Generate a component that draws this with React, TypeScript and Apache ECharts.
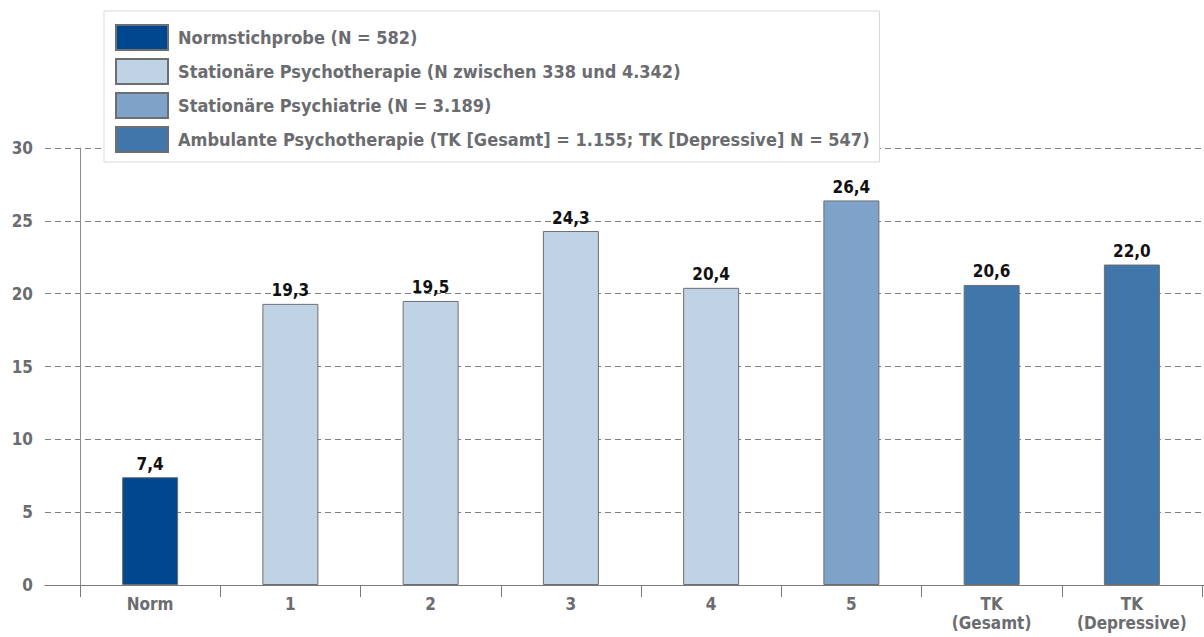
import React, { useEffect, useRef } from "react";
import * as echarts from "echarts";

const categories = ["Norm", "1", "2", "3", "4", "5", "TK\n(Gesamt)", "TK\n(Depressive)"];
const seriesNames = [
  "Normstichprobe (N = 582)",
  "Stationäre Psychotherapie (N zwischen 338 und 4.342)",
  "Stationäre Psychiatrie (N = 3.189)",
  "Ambulante Psychotherapie (TK [Gesamt] = 1.155; TK [Depressive] N = 547)",
];
const normValues = [7.4, "-", "-", "-", "-", "-", "-", "-"];
const stationaerPsychotherapieValues = ["-", 19.3, 19.5, 24.3, 20.4, "-", "-", "-"];
const stationaerPsychiatrieValues = ["-", "-", "-", "-", "-", 26.4, "-", "-"];
const ambulantValues = ["-", "-", "-", "-", "-", "-", 20.6, 22.0];
const seriesColors = ["#00478f", "#c0d3e4", "#7fa3c8", "#4176aa"];
const yTicks = { min: 0, max: 30, interval: 5 };

const FONT = "'Liberation Sans Narrow', 'DejaVu Sans Condensed', 'Roboto Condensed', sans-serif";
const GREY = "#6b6c6f";

export default function App() {
  const ref = useRef<HTMLDivElement>(null);
  useEffect(() => {
    document.body.style.margin = "0";
    const chart = echarts.init(ref.current!, null, { renderer: "svg" });
    const dataSets = [normValues, stationaerPsychotherapieValues, stationaerPsychiatrieValues, ambulantValues];
    const series = dataSets.map((d, i) => ({
      name: seriesNames[i],
      type: "bar",
      stack: "all",
      xAxisIndex: 1,
      yAxisIndex: 1,
      barWidth: 56,
      data: d,
      itemStyle: { color: seriesColors[i], borderColor: "#6d6e71", borderWidth: 1 },
      label: {
        show: true,
        position: "top",
        distance: 5,
        color: "#111",
        fontFamily: FONT,
        fontWeight: "bold",
        fontSize: 17,
        formatter: (p: any) => Number(p.value).toFixed(1).replace(".", ","),
      },
    }));
    chart.setOption({
      animation: false,
      textStyle: { fontFamily: FONT },
      legend: {
        orient: "vertical",
        left: 104,
        top: 11,
        padding: [13, 10, 9, 11],
        itemWidth: 52,
        itemHeight: 25,
        itemGap: 7,
        backgroundColor: "#fff",
        borderColor: "#d9d9d9",
        borderWidth: 1,
        icon: "rect",
        selectedMode: false,
        textStyle: { color: GREY, fontFamily: FONT, fontWeight: "bold", fontSize: 18, padding: [0, 0, 0, 5] },
        data: seriesNames,
      },
      grid: [
        { left: 45, right: 0, top: 148, bottom: 52 },
        { left: 80, right: 2, top: 148, bottom: 52 },
      ],
      xAxis: [
        {
          type: "value",
          gridIndex: 0,
          min: 0,
          max: 1,
          axisLine: { show: true, onZero: false, lineStyle: { color: "#7a7a7a", width: 1 } },
          axisTick: { show: false },
          axisLabel: { show: false },
          splitLine: { show: false },
        },
        {
          type: "category",
          gridIndex: 1,
          data: categories,
          axisLine: { show: false },
          axisTick: { show: true, length: 12, lineStyle: { color: "#7a7a7a" } },
          axisLabel: {
            color: GREY,
            fontFamily: FONT,
            fontWeight: "bold",
            fontSize: 17,
            margin: 9,
            lineHeight: 19,
            interval: 0,
          },
        },
      ],
      yAxis: [
        {
          type: "value",
          gridIndex: 0,
          ...yTicks,
          axisLine: { show: false },
          axisTick: { show: false },
          axisLabel: { color: GREY, fontFamily: FONT, fontWeight: "bold", fontSize: 17, margin: 12 },
          splitLine: { show: true, lineStyle: { color: "#808080", type: [6, 4], width: 1.2 } },
        },
        {
          type: "value",
          gridIndex: 1,
          ...yTicks,
          axisLine: { show: true, lineStyle: { color: "#8a8a8a", width: 1 } },
          axisTick: { show: false },
          axisLabel: { show: false },
          splitLine: { show: false },
        },
      ],
      series,
    });
    return () => chart.dispose();
  }, []);
  return <div ref={ref} style={{ width: 1204, height: 637 }} />;
}
